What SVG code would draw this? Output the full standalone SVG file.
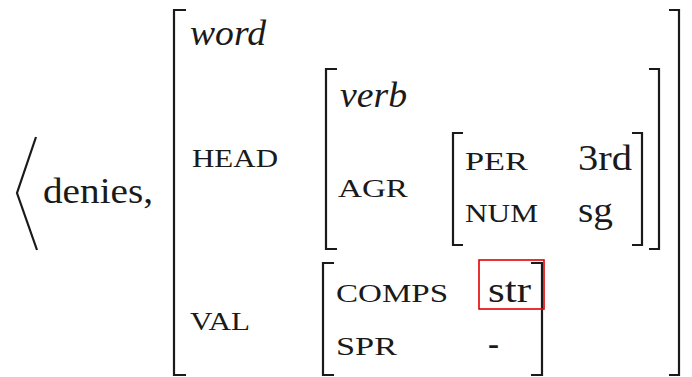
<svg xmlns="http://www.w3.org/2000/svg" width="692" height="377" viewBox="0 0 692 377">
<style>
.br{fill:none;stroke:#1a1a1a;stroke-width:2.2;stroke-linecap:butt;stroke-linejoin:miter}
.rm{font-size:36px;fill:#1a1a1a}
.it{font-style:italic;font-size:36px;fill:#1a1a1a}
.sc{font-size:25px;fill:#1a1a1a}
</style>
<rect width="692" height="377" fill="#fff"/>
<g font-family="Liberation Serif, serif">
<g id="tuple">
<polyline class="br" points="36,137 17,193 37,250"/>
<text class="rm" x="43" y="203" textLength="110" lengthAdjust="spacingAndGlyphs">denies,</text>
</g>
<g id="word-avm">
<path class="br" d="M186,10 H174 V375 H186"/>
<path class="br" d="M669,10 H679 V375 H669"/>
<text class="it" x="190" y="45" textLength="76" lengthAdjust="spacingAndGlyphs">word</text>
<text class="sc" x="192" y="167" textLength="86" lengthAdjust="spacingAndGlyphs">HEAD</text>
<text class="sc" x="190" y="330" textLength="60" lengthAdjust="spacingAndGlyphs">VAL</text>
</g>
<g id="head-avm">
<path class="br" d="M337,69 H326 V249 H337"/>
<path class="br" d="M649,69 H659 V249 H649"/>
<text class="it" x="340" y="107" textLength="67" lengthAdjust="spacingAndGlyphs">verb</text>
<text class="sc" x="338" y="197" textLength="70" lengthAdjust="spacingAndGlyphs">AGR</text>
</g>
<g id="agr-avm">
<path class="br" d="M463,133 H453 V245 H463"/>
<path class="br" d="M632,133 H642 V245 H632"/>
<text class="sc" x="465" y="170" textLength="63" lengthAdjust="spacingAndGlyphs">PER</text>
<text class="rm" x="578" y="170" textLength="54" lengthAdjust="spacingAndGlyphs">3rd</text>
<text class="sc" x="465" y="222" textLength="73" lengthAdjust="spacingAndGlyphs">NUM</text>
<text class="rm" x="578" y="222" textLength="35" lengthAdjust="spacingAndGlyphs">sg</text>
</g>
<g id="val-avm">
<path class="br" d="M334,263 H323 V375 H334"/>
<path class="br" d="M531,263 H542 V375 H531"/>
<text class="sc" x="336" y="302" textLength="112" lengthAdjust="spacingAndGlyphs">COMPS</text>
<text class="rm" x="488" y="302" textLength="43" lengthAdjust="spacingAndGlyphs">str</text>
<text class="sc" x="336" y="355" textLength="61" lengthAdjust="spacingAndGlyphs">SPR</text>
<text class="rm" x="488" y="355" textLength="11" lengthAdjust="spacingAndGlyphs">-</text>
</g>
<g id="highlight">
<rect x="479" y="260" width="65" height="49" fill="none" stroke="#e00000" stroke-width="1.6"/>
</g>
</g>
<g id="connectors"></g>
</svg>
